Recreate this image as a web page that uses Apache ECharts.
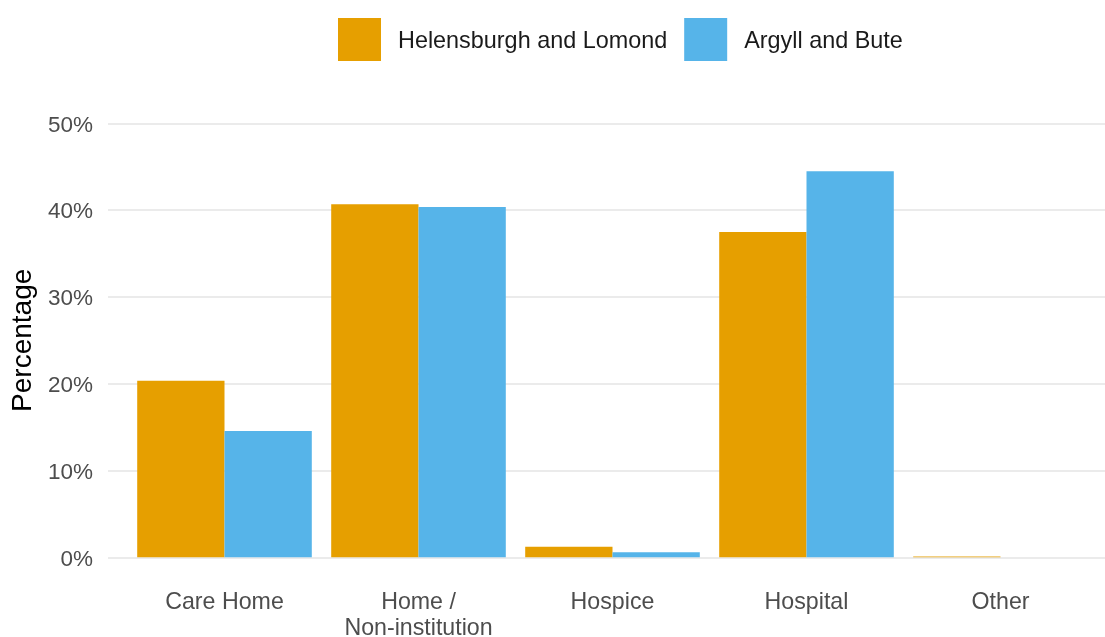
<!DOCTYPE html>
<html>
<head>
<meta charset="utf-8">
<script src="https://cdn.jsdelivr.net/npm/echarts@6/dist/echarts.min.js"></script>
<style>html,body{margin:0;padding:0;background:#fff}#c{width:1105px;height:637px}</style>
</head>
<body>
<div id="c"></div>
<script>
const categories = ['Care Home', 'Home /\nNon-institution', 'Hospice', 'Hospital', 'Other'];
const seriesNames = ['Helensburgh and Lomond', 'Argyll and Bute'];
const helensburgh = [20.35, 40.67, 1.22, 37.48, 0.1];
const argyll = [14.55, 40.36, 0.58, 44.47, 0];
const yTicks = [0, 10, 20, 30, 40, 50];

const chart = echarts.init(document.getElementById('c'), null, {renderer: 'canvas'});
const font = 'Liberation Sans, Arial, sans-serif';
chart.setOption({
  animation: false,
  backgroundColor: '#ffffff',
  legend: {
    data: seriesNames,
    left: 338, top: 18, padding: 0,
    itemWidth: 43, itemHeight: 43, itemGap: 17,
    icon: 'rect',
    formatter: '{a|{name}}',
    textStyle: {fontFamily: font, fontSize: 23.4, color: '#1a1a1a',
      rich: {a: {fontFamily: font, fontSize: 23.4, color: '#1a1a1a', padding: [4, 0, 0, 12]}}}
  },
  grid: [
    {left: 108, right: -11, top: 123.3, bottom: 79.7, outerBoundsMode: 'none', containLabel: false},
    {left: 127.5, width: 970, top: 123.3, bottom: 79.7, outerBoundsMode: 'none', containLabel: false}
  ],
  xAxis: [
    {gridIndex: 0, type: 'category', data: categories, show: false},
    {gridIndex: 1, type: 'category', data: categories,
     axisLine: {show: false}, axisTick: {show: false},
     axisLabel: {fontFamily: font, fontSize: 23.2, color: '#4d4d4d', margin: 32, lineHeight: 26, interval: 0}}
  ],
  yAxis: [
    {gridIndex: 0, type: 'value', min: yTicks[0], max: yTicks[yTicks.length - 1], interval: 10,
     name: 'Percentage', nameLocation: 'middle', nameGap: 62, nameRotate: 90,
     nameTextStyle: {fontFamily: font, fontSize: 28, color: '#000000'},
     axisLine: {show: false}, axisTick: {show: false},
     axisLabel: {fontFamily: font, fontSize: 22.5, color: '#4d4d4d', margin: 15,
       formatter: function (v) { return '{a|' + v + '%}'; },
       rich: {a: {fontFamily: font, fontSize: 22.5, color: '#4d4d4d', padding: [4, 0, 0, 0]}}},
     splitLine: {lineStyle: {color: '#ebebeb', width: 2}}},
    {gridIndex: 1, type: 'value', min: yTicks[0], max: yTicks[yTicks.length - 1], interval: 10, show: false,
     splitLine: {show: false}}
  ],
  series: [
    {name: seriesNames[0], type: 'bar', xAxisIndex: 1, yAxisIndex: 1, data: helensburgh,
     itemStyle: {color: '#E69F00'}, barGap: '0%', barCategoryGap: '10%'},
    {name: seriesNames[1], type: 'bar', xAxisIndex: 1, yAxisIndex: 1, data: argyll,
     itemStyle: {color: '#56B4E9'}, barGap: '0%', barCategoryGap: '10%'}
  ]
});
</script>
</body>
</html>
